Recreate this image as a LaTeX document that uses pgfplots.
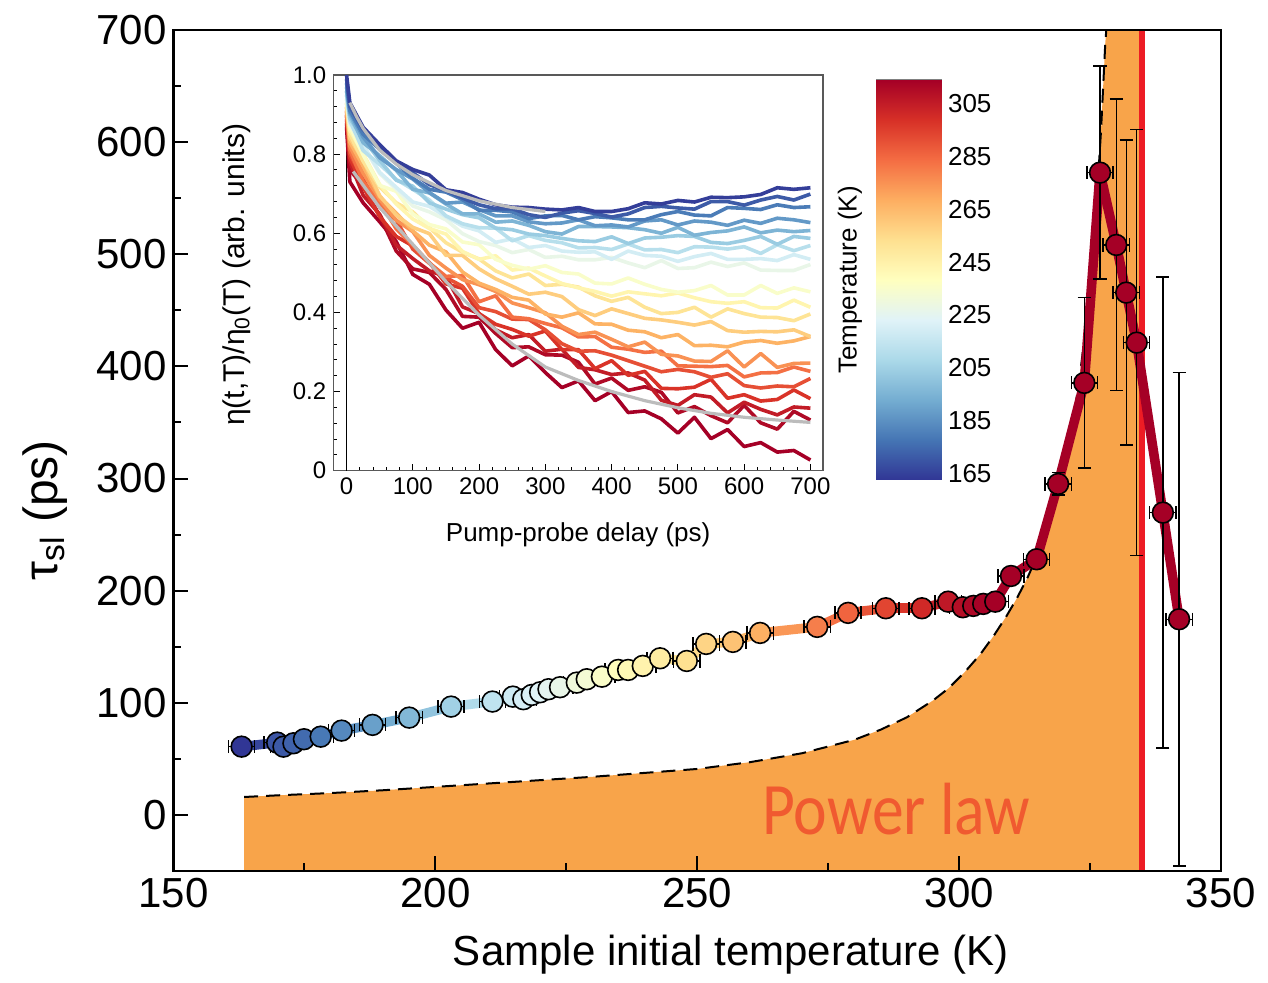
\documentclass[border=0pt]{standalone}
\usepackage{fontspec}
\setmainfont{Liberation Sans}
\newfontfamily\carlito{Carlito}
\usepackage{pgfplots}
\usepackage{pgfplotstable}
\pgfplotsset{compat=1.18}

\pgfplotsset{colormap={rdylbu}{rgb255=(49,54,149) rgb255=(69,117,180) rgb255=(116,173,209) rgb255=(171,217,233) rgb255=(224,243,248) rgb255=(255,255,191) rgb255=(254,224,144) rgb255=(253,174,97) rgb255=(244,109,67) rgb255=(215,48,39) rgb255=(165,0,38)}}

\definecolor{plfill}{RGB}{248,164,74}
\definecolor{tcred}{RGB}{237,28,36}
\definecolor{pltext}{RGB}{240,90,48}
\definecolor{fitgray}{RGB}{188,188,188}
\definecolor{ic1}{RGB}{52,62,153}
\definecolor{ic2}{RGB}{61,91,167}
\definecolor{ic3}{RGB}{75,124,183}
\definecolor{ic4}{RGB}{99,153,199}
\definecolor{ic5}{RGB}{125,180,213}
\definecolor{ic6}{RGB}{154,204,226}
\definecolor{ic7}{RGB}{183,223,236}
\definecolor{ic8}{RGB}{211,237,244}
\definecolor{ic9}{RGB}{233,246,232}
\definecolor{ic10}{RGB}{249,253,202}
\definecolor{ic11}{RGB}{255,245,175}
\definecolor{ic12}{RGB}{254,228,150}
\definecolor{ic13}{RGB}{254,205,126}
\definecolor{ic14}{RGB}{253,179,101}
\definecolor{ic15}{RGB}{249,146,84}
\definecolor{ic16}{RGB}{244,112,68}
\definecolor{ic17}{RGB}{230,79,53}
\definecolor{ic18}{RGB}{217,51,40}
\definecolor{ic19}{RGB}{194,28,39}
\definecolor{ic20}{RGB}{175,10,38}
\definecolor{ic21}{RGB}{165,0,38}

\pgfplotstableread{
x y ey c
163.0 60.9 0 163.0
169.8 64.5 0 169.8
171.0 60.9 0 171.0
172.9 63.9 0 172.9
174.9 67.5 0 174.9
178.1 69.8 0 178.1
182.1 75.2 0 182.1
188.0 80.3 0 188.0
195.0 86.8 0 195.0
203.0 96.6 0 203.0
210.9 101.1 0 210.9
214.8 105.5 0 214.8
216.8 103.2 0 216.8
218.4 107.0 0 218.4
220.0 109.4 0 220.0
221.6 112.1 0 221.6
223.8 113.9 0 223.8
227.0 118.0 0 227.0
228.9 121.0 0 228.9
231.8 123.3 0 231.8
234.9 129.3 0 234.9
236.8 129.3 0 236.8
239.6 132.9 0 239.6
242.9 139.7 0 242.9
248.0 137.3 0 248.0
251.7 152.5 0 251.7
256.8 154.3 0 256.8
262.0 162.3 0 262.0
272.9 167.7 0 272.9
278.8 180.2 0 278.8
286.0 184.3 0 286.0
292.9 184.3 0 292.9
297.9 190.2 0 297.9
300.7 185.2 0 300.7
302.7 186.4 0 302.7
304.6 188.2 0 304.6
306.9 190.2 0 305.0
309.9 213.1 0 305.0
314.8 228.0 0 305.0
318.9 295.2 10 305.0
323.9 385.3 76 305.0
326.9 572.8 95 305.0
330.0 508.3 130 305.0
331.9 465.8 136 305.0
333.9 421.2 190 305.0
338.9 269.6 210 305.0
342.0 174.5 220 305.0
}\maindata

\pgfplotstableread{
t c1 c2 c3 c4 c5 c6 c7 c8 c9 c10 c11 c12 c13 c14 c15 c16 c17 c18 c19 c20 c21
0 1.00 0.99 0.98 0.97 0.96 0.96 0.95 0.95 0.94 0.94 0.93 0.93 0.92 0.92 0.91 0.91 0.90 0.90 0.89 0.88 0.87
5 0.93 0.92 0.91 0.905 0.90 0.89 0.885 0.88 0.875 0.87 0.86 0.85 0.84 0.83 0.82 0.81 0.80 0.79 0.78 0.76 0.73
25 0.868 0.862 0.850 0.843 0.829 0.839 0.809 0.824 0.821 0.798 0.801 0.782 0.784 0.770 0.752 0.730 0.736 0.717 0.696 0.719 0.677
50 0.824 0.822 0.812 0.791 0.796 0.784 0.774 0.754 0.751 0.721 0.723 0.717 0.695 0.692 0.686 0.680 0.666 0.642 0.648 0.644 0.629
75 0.783 0.779 0.777 0.761 0.759 0.734 0.736 0.716 0.711 0.706 0.674 0.677 0.646 0.651 0.633 0.611 0.633 0.592 0.570 0.555 0.579
100 0.761 0.753 0.739 0.737 0.711 0.719 0.711 0.679 0.669 0.649 0.636 0.654 0.615 0.606 0.604 0.570 0.560 0.568 0.536 0.510 0.496
125 0.747 0.723 0.711 0.703 0.702 0.677 0.684 0.668 0.654 0.622 0.612 0.614 0.599 0.570 0.544 0.525 0.524 0.526 0.505 0.501 0.471
150 0.710 0.708 0.704 0.676 0.674 0.661 0.644 0.642 0.634 0.611 0.598 0.576 0.544 0.553 0.512 0.491 0.488 0.472 0.490 0.458 0.406
175 0.703 0.689 0.685 0.679 0.649 0.647 0.624 0.618 0.599 0.578 0.554 0.552 0.544 0.502 0.483 0.493 0.466 0.461 0.414 0.390 0.360
200 0.686 0.672 0.658 0.660 0.649 0.639 0.614 0.606 0.579 0.571 0.534 0.535 0.510 0.474 0.470 0.427 0.412 0.397 0.397 0.388 0.375
225 0.672 0.662 0.658 0.644 0.628 0.613 0.613 0.577 0.569 0.534 0.543 0.505 0.485 0.458 0.453 0.442 0.402 0.370 0.356 0.347 0.306
250 0.666 0.662 0.654 0.644 0.631 0.609 0.581 0.586 0.551 0.519 0.507 0.487 0.466 0.438 0.424 0.388 0.383 0.357 0.336 0.311 0.265
275 0.665 0.647 0.637 0.629 0.620 0.598 0.594 0.564 0.559 0.509 0.512 0.497 0.446 0.431 0.412 0.384 0.382 0.340 0.344 0.313 0.290
300 0.661 0.640 0.644 0.624 0.604 0.594 0.582 0.569 0.539 0.518 0.492 0.468 0.451 0.396 0.399 0.372 0.356 0.353 0.302 0.293 0.248
325 0.659 0.651 0.645 0.626 0.598 0.587 0.576 0.555 0.542 0.501 0.473 0.471 0.440 0.388 0.365 0.361 0.321 0.306 0.307 0.292 0.210
350 0.665 0.657 0.634 0.634 0.617 0.581 0.563 0.552 0.533 0.497 0.462 0.464 0.407 0.399 0.344 0.338 0.302 0.306 0.261 0.274 0.227
375 0.655 0.650 0.642 0.619 0.617 0.579 0.564 0.553 0.533 0.474 0.453 0.442 0.392 0.371 0.350 0.339 0.303 0.258 0.255 0.219 0.177
400 0.655 0.641 0.639 0.621 0.616 0.591 0.559 0.534 0.539 0.472 0.441 0.428 0.409 0.370 0.332 0.312 0.292 0.278 0.243 0.234 0.200
425 0.662 0.649 0.634 0.616 0.614 0.574 0.573 0.555 0.525 0.487 0.452 0.438 0.397 0.355 0.313 0.307 0.278 0.241 0.247 0.203 0.147
450 0.677 0.665 0.634 0.631 0.609 0.588 0.558 0.544 0.513 0.471 0.447 0.413 0.385 0.351 0.325 0.299 0.264 0.251 0.229 0.212 0.151
475 0.674 0.668 0.647 0.634 0.600 0.590 0.559 0.542 0.531 0.458 0.442 0.397 0.381 0.336 0.294 0.302 0.250 0.208 0.178 0.198 0.131
500 0.683 0.664 0.655 0.621 0.615 0.594 0.551 0.529 0.511 0.451 0.449 0.400 0.375 0.344 0.290 0.265 0.256 0.207 0.165 0.146 0.095
525 0.679 0.661 0.646 0.631 0.595 0.592 0.566 0.541 0.513 0.455 0.437 0.413 0.368 0.316 0.277 0.264 0.250 0.211 0.192 0.162 0.135
550 0.691 0.680 0.644 0.628 0.602 0.577 0.565 0.549 0.527 0.468 0.427 0.388 0.377 0.317 0.276 0.263 0.236 0.231 0.186 0.139 0.081
575 0.690 0.680 0.665 0.620 0.606 0.574 0.560 0.534 0.516 0.444 0.423 0.409 0.354 0.313 0.303 0.266 0.245 0.183 0.146 0.121 0.104
600 0.692 0.671 0.663 0.633 0.616 0.582 0.566 0.534 0.525 0.444 0.427 0.397 0.350 0.325 0.262 0.237 0.215 0.192 0.173 0.165 0.061
625 0.698 0.684 0.660 0.625 0.601 0.592 0.549 0.536 0.507 0.468 0.412 0.388 0.352 0.329 0.296 0.247 0.209 0.176 0.155 0.121 0.071
650 0.715 0.693 0.672 0.638 0.608 0.572 0.571 0.531 0.506 0.448 0.411 0.387 0.351 0.322 0.261 0.248 0.214 0.180 0.141 0.105 0.047
675 0.711 0.684 0.665 0.634 0.604 0.592 0.556 0.546 0.506 0.462 0.431 0.379 0.356 0.328 0.271 0.262 0.212 0.204 0.161 0.150 0.051
700 0.715 0.699 0.667 0.627 0.607 0.587 0.569 0.534 0.521 0.452 0.413 0.396 0.339 0.339 0.272 0.251 0.233 0.182 0.158 0.128 0.027
}\insetdata

\begin{document}
\begin{tikzpicture}
\useasboundingbox (-86.75pt,-56pt) rectangle (547.25pt,435.5pt);

% ---------------- main axis ----------------
\begin{axis}[
  at={(0pt,0pt)}, anchor=south west, scale only axis,
  width=523.75pt, height=420.5pt,
  xmin=150, xmax=350, ymin=-50, ymax=700,
  xtick={150,200,250,300,350}, ytick={0,100,...,700},
  minor x tick num=1, minor y tick num=1,
  tick align=inside, xtick pos=left, ytick pos=left,
  major tick length=7.5pt, minor tick length=4pt,
  tick style={black, line width=1pt},
  axis line style={line width=1.3pt},
  axis on top,
  tick label style={font=\fontsize{21}{24}\selectfont},
  /pgf/number format/assume math mode=true,
  xlabel={Sample initial temperature (K)},
  xlabel style={font=\fontsize{21}{24}\selectfont, at={(axis description cs:0.532,-0.1)}, anchor=center},
  ylabel={τ\textsubscript{sl} (ps)},
  ylabel style={font=\fontsize{24}{28}\selectfont, at={(axis description cs:-0.1227,0.429)}, anchor=center},
  point meta min=163, point meta max=305,
]
% power-law filled region
\addplot[fill=plfill, draw=none] coordinates {
 (163.5,-50) (163.5,16) (170,17.5) (180,19.5) (190,22) (200,25) (210,28) (220,31) (230,34)
 (240,37.5) (250,41) (260,47) (270,55) (280,67) (285,76) (290,87) (295,102) (298,113)
 (301,127) (304,143) (306.5,159) (309,177) (311,193) (313,211) (314.8,230) (316.7,254)
 (318.5,283) (320,312) (321.8,352) (323,390) (324.2,435) (325.5,500) (326.5,565)
 (327.1,611) (327.9,688) (328.6,730) (334.9,730) (334.9,-50)} -- cycle;
% dashed power law
\addplot[black, line width=1pt, dash pattern=on 7pt off 4pt] coordinates {
 (163.5,16) (170,17.5) (180,19.5) (190,22) (200,25) (210,28) (220,31) (230,34)
 (240,37.5) (250,41) (260,47) (270,55) (280,67) (285,76) (290,87) (295,102) (298,113)
 (301,127) (304,143) (306.5,159) (309,177) (311,193) (313,211) (314.8,230) (316.7,254)
 (318.5,283) (320,312) (321.8,352) (323,390) (324.2,435) (325.5,500) (326.5,565)
 (327.1,611) (327.9,688) (328.6,730)};
% critical temperature line
\addplot[tcred, line width=2.6pt] coordinates {(334.9,-50) (334.9,700)};
% thick coloured connecting line
\addplot[mesh, point meta=\thisrow{c}, line width=4.8pt, line cap=round, line join=round]
  table[x=x, y=y] {\maindata};
% markers with error bars
\addplot[scatter, only marks, mark=*, mark size=5.2pt,
  scatter/use mapped color={draw=black, fill=mapped color, line width=0.8pt},
  point meta=\thisrow{c},
  error bars/.cd, x dir=both, x fixed=2.5, y dir=both, y explicit,
  error bar style={black, line width=0.7pt},
  error mark=-,
  error mark options={black, rotate=90, mark size=3.3pt, line width=0.7pt}]
  table[x=x, y=y, y error=ey] {\maindata};
\node[text=pltext, font=\carlito\fontsize{37}{40}\selectfont, xscale=0.86] at (axis cs:288,5) {Power law};
\end{axis}

% ---------------- inset ----------------
\begin{axis}[
  at={(79.9pt,200.15pt)}, anchor=south west, scale only axis,
  width=244.85pt, height=197.85pt,
  xmin=-20, xmax=719, ymin=0, ymax=1,
  xtick={0,100,...,700}, ytick={0,0.2,0.4,0.6,0.8,1.0},
  yticklabels={0,0.2,0.4,0.6,0.8,1.0},
  minor x tick num=4, minor y tick num=4,
  tick align=inside, xtick pos=left, ytick pos=left,
  major tick length=3.5pt, minor tick length=2pt,
  tick style={black, line width=0.5pt},
  axis line style={draw=black!65, line width=0.6pt},
  tick label style={font=\fontsize{12}{14}\selectfont},
  /pgf/number format/assume math mode=true,
  xlabel={Pump-probe delay (ps)},
  xlabel style={font=\fontsize{13}{15}\selectfont, at={(axis description cs:0.5,-0.1625)}, anchor=center},
  ylabel={η(t,T)/η\textsubscript{0}(T) (arb. units)},
  ylabel style={font=\fontsize{15}{17}\selectfont, at={(axis description cs:-0.1967,0.495)}, anchor=center},
]
\addplot[black, line width=0.6pt] coordinates {(0,0) (0,1)};
\pgfplotsinvokeforeach{21,20,...,1}{
  \addplot[color=ic#1, line width=1.8pt, line join=round] table[x=t, y=c#1] {\insetdata};
}
\addplot[fitgray, line width=1.6pt] coordinates {(5,0.93) (15,0.895) (25,0.865) (50,0.81) (75,0.775) (100,0.748) (150,0.708) (200,0.682) (250,0.665) (300,0.655)};
\addplot[fitgray, line width=1.6pt] coordinates {(10,0.756) (30,0.71) (50,0.665) (100,0.572) (150,0.478) (200,0.393) (250,0.32) (300,0.262) (350,0.228) (400,0.2) (450,0.177) (500,0.159) (550,0.145) (600,0.135) (650,0.128) (700,0.122)};
\end{axis}

% ---------------- colour bar ----------------
\begin{axis}[
  at={(351.25pt,195.5pt)}, anchor=south west, scale only axis,
  width=32.5pt, height=200pt,
  xmin=0, xmax=1, ymin=162.5, ymax=314, enlargelimits=false,
  xtick=\empty, ytick={165,185,...,305},
  ytick pos=right, yticklabel pos=right,
  tick align=inside, major tick length=3pt,
  tick style={black!70, line width=0.5pt},
  axis line style={draw=black!50, line width=0.5pt},
  tick label style={font=\fontsize{13}{15}\selectfont},
  /pgf/number format/assume math mode=true,
  ylabel={Temperature (K)},
  ylabel style={font=\fontsize{13}{15}\selectfont, at={(axis description cs:-0.4,0.5)}, anchor=center},
  point meta min=162.5, point meta max=314,
]
\addplot[surf, shader=interp, point meta=y, mesh/cols=2] coordinates {(0,162.5) (1,162.5) (0,314) (1,314)};
\end{axis}
\end{tikzpicture}
\end{document}
